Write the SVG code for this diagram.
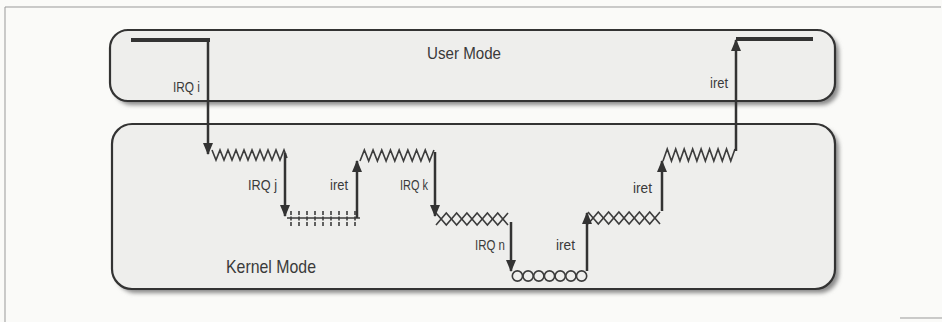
<svg xmlns="http://www.w3.org/2000/svg" width="942" height="322" viewBox="0 0 942 322">
<defs>
<style>
.box{fill:#eeeeec;stroke:#333;stroke-width:2.2}
.shadow{fill:#8a8a8a}
.arrow{stroke:#333;stroke-width:2.5;fill:none}
.wave{stroke:#3c3c3c;stroke-width:1.6;fill:none}
.bar{stroke:#333;stroke-width:4;fill:none}
.lbl{font-family:"Liberation Sans",Arial,sans-serif;font-size:14px;fill:#3a3a3a}
.title{font-family:"Liberation Sans",Arial,sans-serif;fill:#3a3a3a}
.frame{stroke:#999;stroke-width:1;fill:none}
</style>
<filter id="blur" x="-5%" y="-10%" width="110%" height="120%"><feGaussianBlur stdDeviation="2"/></filter>
<marker id="ah" markerUnits="userSpaceOnUse" markerWidth="12" markerHeight="14" viewBox="0 0 12 14" refX="11" refY="5" orient="auto">
<path d="M0,0 L12,5 L0,10 Z" fill="#333"/>
</marker>
</defs>
<rect width="942" height="322" fill="#fafaf8"/>
<path class="frame" d="M941,7 H5 V322"/>
<path class="frame" d="M900,318 H942"/>

<g id="user-mode">
<rect class="shadow" x="114" y="34" width="725" height="71" rx="18" filter="url(#blur)"/>
<rect class="box" x="110" y="30" width="725" height="71" rx="18"/>
<text class="title" x="427" y="59" font-size="17" textLength="74" lengthAdjust="spacingAndGlyphs">User Mode</text>
<line class="bar" x1="131" y1="40" x2="210" y2="40"/>
<line class="bar" x1="736" y1="39" x2="813" y2="39"/>
</g>

<g id="kernel-mode">
<rect class="shadow" x="116" y="128" width="723" height="165" rx="20" filter="url(#blur)"/>
<rect class="box" x="112" y="124" width="723" height="165" rx="20" fill="#ebebe9"/>
<text class="title" x="226" y="273" font-size="19" textLength="90" lengthAdjust="spacingAndGlyphs">Kernel Mode</text>
</g>

<g id="irq-i-handler">
<polyline class="wave" points="212,150 216,160 220,150 224,160 228,150 232,160 236,150 240,160 244,150 248,160 252,150 256,160 260,150 264,160 268,150 272,160 276,150 280,160 284,150 287,158"/>
</g>

<g id="irq-j-handler">
<line class="wave" x1="287" y1="218" x2="360" y2="218" stroke-width="1.9"/>
<path class="wave" d="M291,211 V226 M299,211 V226 M307,211 V226 M315,211 V226 M323,211 V226 M331,211 V226 M339,211 V226 M347,211 V226 M355,211 V226" stroke-dasharray="4,1.5"/>
</g>

<g id="irq-i-resumed">
<polyline class="wave" points="360,161 364.35,150 368.7,161 373.05,150 377.4,161 381.75,150 386.1,161 390.45,150 394.8,161 399.15,150 403.5,161 407.85,150 412.2,161 416.55,150 420.9,161 425.25,150 429.6,161 433.95,150"/>
</g>

<g id="irq-k-handler">
<polyline class="wave" points="436,213 446.3,225 456.6,213 466.9,225 477.1,213 487.4,225 497.7,213 508,225"/>
<polyline class="wave" points="436,225 446.3,213 456.6,225 466.9,213 477.1,225 487.4,213 497.7,225 508,213"/>
</g>

<g id="irq-n-handler">
<g class="wave">
<circle cx="517.4" cy="276" r="5.1"/>
<circle cx="528.1" cy="276" r="5.1"/>
<circle cx="538.8" cy="276" r="5.1"/>
<circle cx="549.5" cy="276" r="5.1"/>
<circle cx="560.2" cy="276" r="5.1"/>
<circle cx="570.9" cy="276" r="5.1"/>
<circle cx="581.6" cy="276" r="5.1"/>
</g>
</g>

<g id="irq-k-resumed">
<polyline class="wave" points="588,212 598.3,224 608.6,212 618.9,224 629.1,212 639.4,224 649.7,212 660,224"/>
<polyline class="wave" points="588,224 598.3,212 608.6,224 618.9,212 629.1,224 639.4,212 649.7,224 660,212"/>
</g>

<g id="irq-i-final">
<polyline class="wave" points="663,161 667.24,149 671.47,161 675.71,149 679.94,161 684.18,149 688.41,161 692.65,149 696.88,161 701.12,149 705.35,161 709.59,149 713.82,161 718.06,149 722.29,161 726.53,149 730.76,161 735,149"/>
</g>

<g id="connectors">
<line class="arrow" x1="208" y1="41" x2="208" y2="154" marker-end="url(#ah)"/>
<line class="arrow" x1="285" y1="153" x2="285" y2="216" marker-end="url(#ah)"/>
<line class="arrow" x1="357" y1="218" x2="357" y2="161" marker-end="url(#ah)"/>
<line class="arrow" x1="435" y1="152" x2="435" y2="216" marker-end="url(#ah)"/>
<line class="arrow" x1="511" y1="222" x2="511" y2="271" marker-end="url(#ah)"/>
<line class="arrow" x1="587" y1="271" x2="587" y2="213" marker-end="url(#ah)"/>
<line class="arrow" x1="662" y1="211" x2="662" y2="161" marker-end="url(#ah)"/>
<line class="arrow" x1="736" y1="151" x2="736" y2="40" marker-end="url(#ah)"/>
<text class="lbl" x="173" y="92" textLength="27" lengthAdjust="spacingAndGlyphs">IRQ i</text>
<text class="lbl" x="710" y="88" textLength="18" lengthAdjust="spacingAndGlyphs">iret</text>
<text class="lbl" x="248" y="190" textLength="29" lengthAdjust="spacingAndGlyphs">IRQ j</text>
<text class="lbl" x="330" y="190" textLength="18" lengthAdjust="spacingAndGlyphs">iret</text>
<text class="lbl" x="400" y="190" textLength="28" lengthAdjust="spacingAndGlyphs">IRQ k</text>
<text class="lbl" x="475" y="250" textLength="30" lengthAdjust="spacingAndGlyphs">IRQ n</text>
<text class="lbl" x="556" y="250" textLength="19" lengthAdjust="spacingAndGlyphs">iret</text>
<text class="lbl" x="633" y="193" textLength="19" lengthAdjust="spacingAndGlyphs">iret</text>
</g>
</svg>
